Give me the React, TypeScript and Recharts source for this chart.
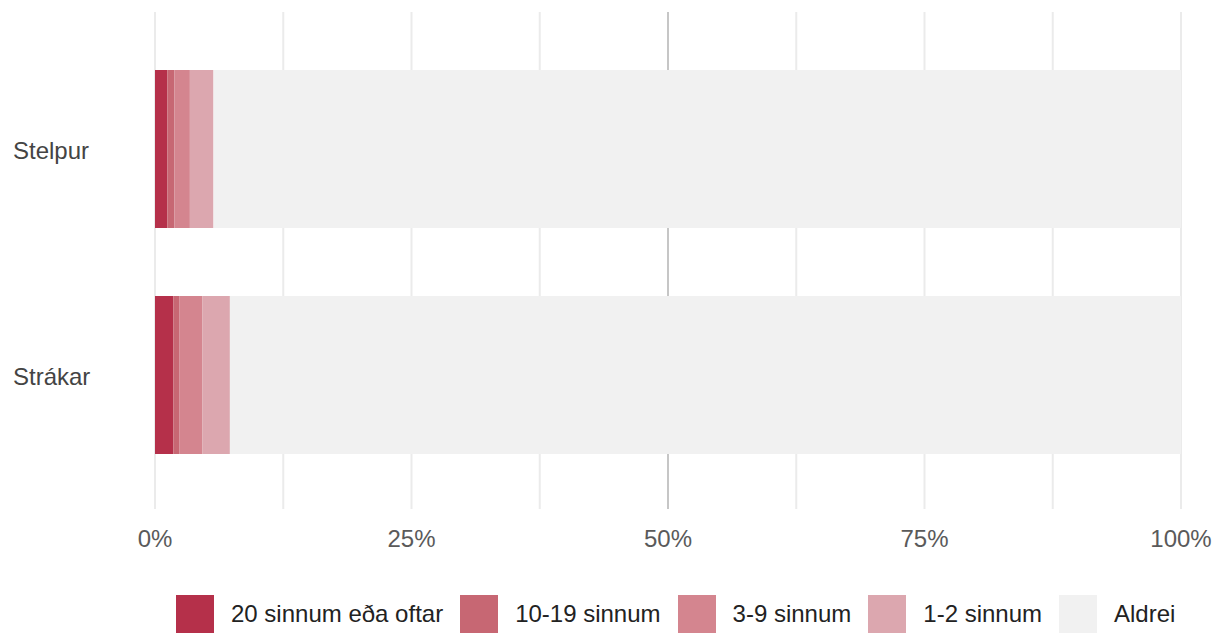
import React from 'react';
import { BarChart, Bar, XAxis, YAxis, CartesianGrid, Legend } from 'recharts';

const categories = ['Stelpur', 'Strákar'];
const seriesNames = ['20 sinnum eða oftar', '10-19 sinnum', '3-9 sinnum', '1-2 sinnum', 'Aldrei'];
const seriesColors = ['#b5304a', '#c76773', '#d4858f', '#dca7af', '#f1f1f1'];
const v20plus = [1.2, 1.8];
const v10to19 = [0.7, 0.6];
const v3to9 = [1.5, 2.2];
const v1to2 = [2.3, 2.7];
const vAldrei = [94.3, 92.7];
const xTicks = [0, 25, 50, 75, 100];
const gridValues = [0, 12.5, 25, 37.5, 62.5, 75, 87.5, 100];
const midValues = [50];

const seriesKeys = ['s0', 's1', 's2', 's3', 's4'];
const seriesValues = [v20plus, v10to19, v3to9, v1to2, vAldrei];

const data = categories.map((name, i) => {
  const row: any = { name };
  seriesKeys.forEach((k, j) => {
    row[k] = seriesValues[j][i];
  });
  return row;
});

const FONT = '"Liberation Sans", Arial, sans-serif';

const makeGen = (vals: number[]) => (props: any) => {
  try {
    const off = props && props.offset;
    if (off && typeof off.left === 'number' && typeof off.width === 'number') {
      return vals.map((v) => off.left + (off.width * v) / 100);
    }
    const xa = props && props.xAxis;
    if (xa && typeof xa.scale === 'function') {
      return vals.map((v) => Number(xa.scale(v)));
    }
  } catch (e) {
    // ignore
  }
  return [];
};

const YTick = (props: any) => {
  const { y, payload } = props;
  return (
    <text x={13} y={y} dy="0.42em" textAnchor="start" fill="#444" fontSize={24} fontFamily={FONT}>
      {payload.value}
    </text>
  );
};

const LegendContent = () => (
  <div style={{ display: 'flex', alignItems: 'center', fontFamily: FONT, fontSize: 24, color: '#222' }}>
    {seriesNames.map((n, i) => (
      <div key={n} style={{ display: 'flex', alignItems: 'center', marginRight: 17 }}>
        <div style={{ width: 38, height: 38, background: seriesColors[i], marginRight: 17 }} />
        <span>{n}</span>
      </div>
    ))}
  </div>
);

export default function App() {
  return (
    <div style={{ position: 'absolute', left: 0, top: 0, width: 1212, height: 635, background: '#fff' }}>
      <BarChart
        width={1212}
        height={635}
        data={data}
        layout="vertical"
        margin={{ top: 12, right: 31, bottom: 0, left: 0 }}
        barSize={158}
      >
        <CartesianGrid horizontal={false} stroke="#ebebeb" strokeWidth={2} verticalCoordinatesGenerator={makeGen(gridValues)} />
        <CartesianGrid horizontal={false} stroke="#c6c6c6" strokeWidth={2} verticalCoordinatesGenerator={makeGen(midValues)} />
        <XAxis
          type="number"
          domain={[0, 100]}
          ticks={xTicks}
          tickFormatter={(v: number) => `${v}%`}
          axisLine={false}
          tickLine={false}
          tickMargin={15}
          height={126}
          interval={0}
          tick={{ fill: '#5a5a5a', fontSize: 24, fontFamily: FONT }}
        />
        <YAxis
          type="category"
          dataKey="name"
          width={155}
          axisLine={false}
          tickLine={false}
          padding={{ top: 24, bottom: 21 }}
          tick={<YTick />}
        />
        <Legend
          layout="horizontal"
          verticalAlign="middle"
          align="center"
          wrapperStyle={{ position: 'absolute', top: 595, left: 176, width: 1036 }}
          content={<LegendContent />}
        />
        {seriesKeys.map((k, j) => (
          <Bar key={k} dataKey={k} name={seriesNames[j]} stackId="a" fill={seriesColors[j]} isAnimationActive={false} />
        ))}
      </BarChart>
    </div>
  );
}
